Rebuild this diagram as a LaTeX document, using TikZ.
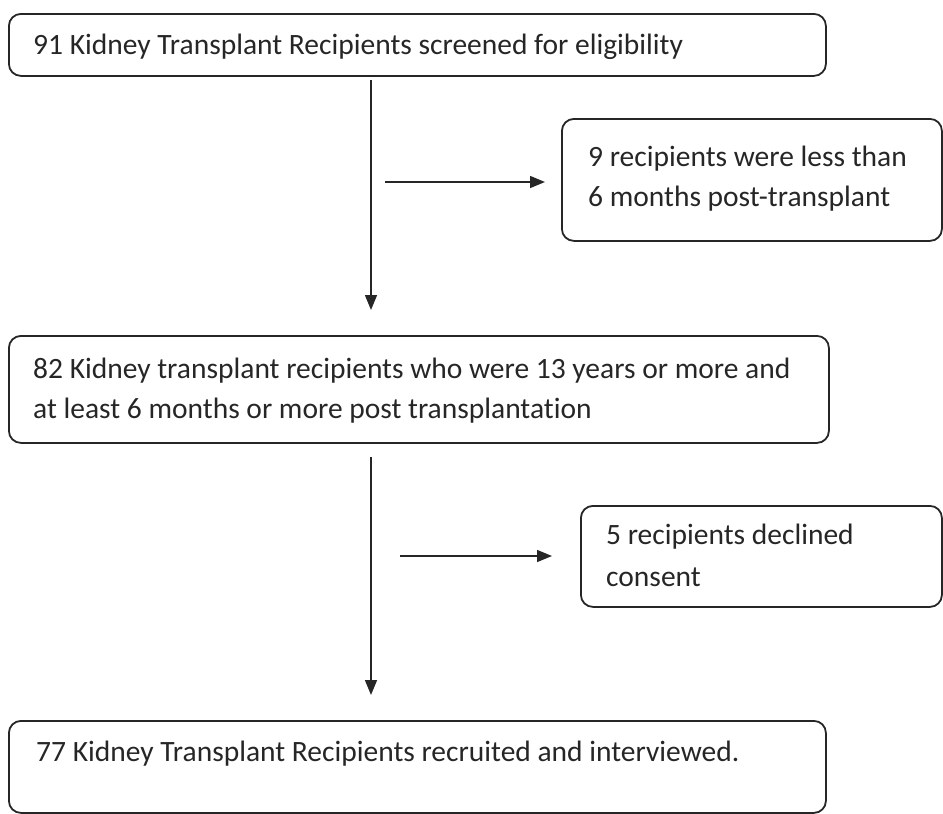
\documentclass[tikz,border=0pt]{standalone}
\usepackage{fontspec}
\setmainfont{Carlito}[Ligatures=NoCommon]
\usetikzlibrary{arrows.meta}
\begin{document}
\begin{tikzpicture}[x=1pt,y=-1pt,
  box/.style={draw=black!85,line width=1.8pt,rounded corners=12pt,anchor=north west,inner sep=0pt},
  txt/.style={anchor=base west,inner sep=0pt,font=\fontsize{29.5}{40}\selectfont,text=black!85},
  conn/.style={draw=black!85,line width=1.5pt,-{Triangle[length=15pt,width=12pt]}}]
\useasboundingbox (0,0) rectangle (943,814);
% boxes
\node[box,minimum width=817pt,minimum height=62pt] (b1) at (8,13) {};
\node[box,minimum width=380pt,minimum height=122pt] (b2) at (561,118) {};
\node[box,minimum width=820pt,minimum height=107pt] (b3) at (8,335) {};
\node[box,minimum width=361pt,minimum height=101pt] (b4) at (580,505) {};
\node[box,minimum width=817pt,minimum height=92pt] (b5) at (8,720) {};
% texts
\node[txt] (t1) at (33,54) {91 Kidney Transplant Recipients screened for eligibility};
\node[txt] (t2a) at (588,166) {9 recipients were less than};
\node[txt] (t2b) at (588,206) {6 months post-transplant};
\node[txt] (t3a) at (33,378) {82 Kidney transplant recipients who were 13 years or more and};
\node[txt] (t3b) at (33,418) {at least 6 months or more post transplantation};
\node[txt] (t4a) at (606,544) {5 recipients declined};
\node[txt] (t4b) at (606,586) {consent};
\node[txt] (t5) at (36,761) {77 Kidney Transplant Recipients recruited and interviewed.};
% connectors
\coordinate (v1) at (371,0);
\coordinate (h1) at (385,182);
\coordinate (h2) at (400,556);
\draw[conn,shorten <=3pt,shorten >=25pt] (b1.south -| v1) -- (b3.north -| v1);
\draw[conn,shorten >=16pt] (h1) -- (h1 -| b2.west);
\draw[conn,shorten <=13pt,shorten >=25pt] (b3.south -| v1) -- (b5.north -| v1);
\draw[conn,shorten >=28pt] (h2) -- (h2 -| b4.west);
\end{tikzpicture}
\end{document}
